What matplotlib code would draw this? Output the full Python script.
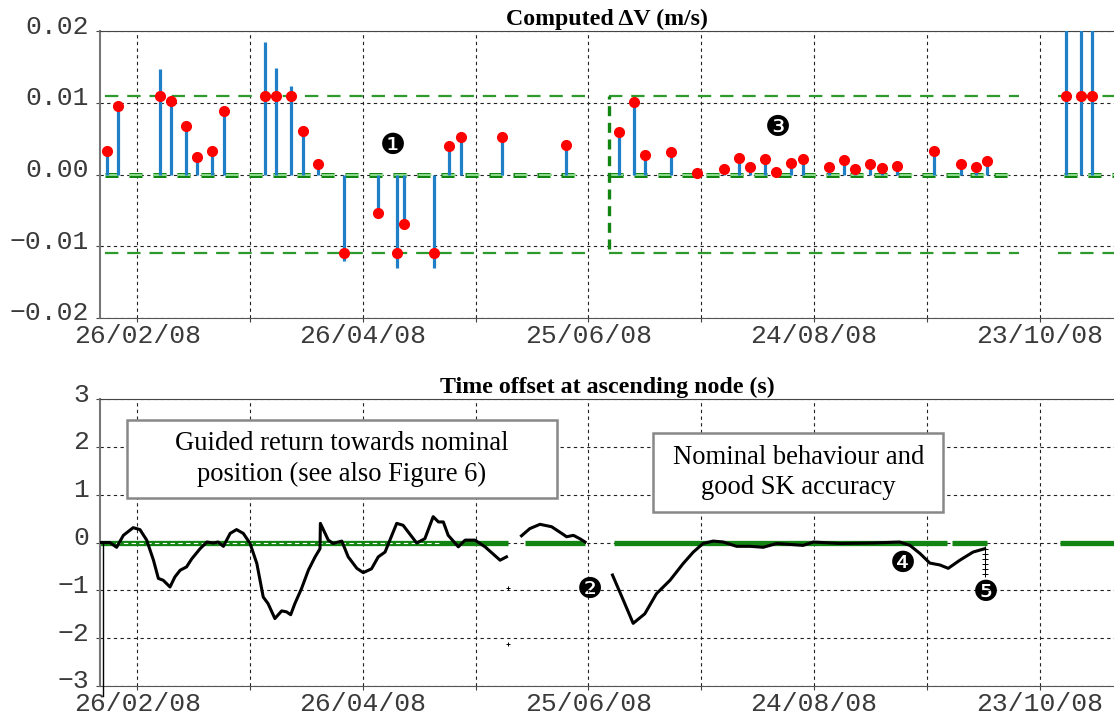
import matplotlib
matplotlib.use('Agg')
import matplotlib.pyplot as plt
import matplotlib.dates as mdates
import matplotlib.transforms as mtransforms
from matplotlib.patches import Rectangle
import numpy as np

# --- data -------------------------------------------------------------
base_date = '2008-02-26'

stem_dates = ['2008-02-18', '2008-02-21', '2008-03-03', '2008-03-06', '2008-03-10',
              '2008-03-13', '2008-03-17', '2008-03-20', '2008-03-31', '2008-04-03',
              '2008-04-07', '2008-04-10', '2008-04-14', '2008-04-21', '2008-04-30',
              '2008-05-05', '2008-05-07', '2008-05-15', '2008-05-19', '2008-05-22',
              '2008-06-02', '2008-06-19', '2008-07-03', '2008-07-07', '2008-07-10',
              '2008-07-17', '2008-07-24', '2008-07-31', '2008-08-04', '2008-08-07',
              '2008-08-11', '2008-08-14', '2008-08-18', '2008-08-21', '2008-08-28',
              '2008-09-01', '2008-09-04', '2008-09-08', '2008-09-11', '2008-09-15',
              '2008-09-25', '2008-10-02', '2008-10-06', '2008-10-09', '2008-10-30',
              '2008-11-03', '2008-11-06']
dv_raw = [0.0033, 0.0095, 0.0147, 0.0103, 0.0068, 0.0025, 0.0033, 0.0088, 0.0184, 0.0149,
          0.0124, 0.0060, 0.0015, -0.0120, -0.0053, -0.0130, -0.0069, -0.0130, 0.0040, 0.0052,
          0.0052, 0.0041, 0.0059, 0.0101, 0.0027, 0.0031, 0.0002, 0.0008, 0.0023, 0.0011,
          0.0022, 0.0003, 0.0016, 0.0022, 0.0011, 0.0020, 0.0008, 0.0014, 0.0009, 0.0012,
          0.0033, 0.0015, 0.0010, 0.0019, 0.0300, 0.0300, 0.0300]
dv_applied = [0.0033, 0.0095, 0.0110, 0.0103, 0.0068, 0.0025, 0.0033, 0.0088, 0.0110, 0.0110,
              0.0110, 0.0060, 0.0015, -0.0110, -0.0053, -0.0110, -0.0069, -0.0110, 0.0040, 0.0052,
              0.0052, 0.0041, 0.0059, 0.0101, 0.0027, 0.0031, 0.0002, 0.0008, 0.0023, 0.0011,
              0.0022, 0.0003, 0.0016, 0.0022, 0.0011, 0.0020, 0.0008, 0.0014, 0.0009, 0.0012,
              0.0033, 0.0015, 0.0010, 0.0019, 0.0110, 0.0110, 0.0110]

dv_limit = 0.011
# control periods (days from 26/02/08)
dv_band_periods = [(-8.6, 119.0), (125.5, 234.5), (245.0, 262.0)]
dv_zero_periods = [(-8.6, 117.2), (125.7, 233.7), (246.5, 262.0)]
dv_switch_day = 125.5

# time offset curve, days from 26/02/08, three pieces
t1_day = [-9.9, -7.3, -5.5, -3.7, -1.1, 0.7, 2.5, 4.3, 5.6, 6.9, 8.7, 10.0, 11.4, 13.1, 14.5,
          16.7, 18.5, 20.2, 21.5, 22.9, 24.7, 26.4, 28.2, 30.0, 31.8, 33.5, 34.8, 36.6, 38.4,
          39.7, 40.8, 41.9, 43.7, 45.5, 47.3, 48.6, 48.7, 50.8, 52.1, 54.4, 56.1, 58.4, 60.1,
          62.3, 64.1, 65.9, 69.0, 70.7, 74.3, 76.5, 78.7, 80.1, 81.4, 82.7, 85.4, 87.2, 89.8,
          92.5, 96.5, 98.2]
t1_val = [0.0, 0.0, -0.10, 0.15, 0.31, 0.27, 0.05, -0.37, -0.75, -0.79, -0.93, -0.72, -0.58,
          -0.51, -0.34, -0.13, 0.01, -0.01, 0.01, -0.08, 0.19, 0.27, 0.19, -0.02, -0.44, -1.14,
          -1.28, -1.59, -1.43, -1.45, -1.51, -1.28, -0.96, -0.58, -0.30, -0.13, 0.40, 0.05,
          -0.02, 0.03, -0.30, -0.54, -0.63, -0.55, -0.30, -0.20, 0.40, 0.36, -0.01, 0.08, 0.54,
          0.43, 0.43, 0.15, -0.09, 0.05, 0.05, -0.09, -0.37, -0.30]
t2_day = [102.2, 104.4, 107.1, 110.2, 112.9, 114.2, 116.0, 117.7, 119.1]
t2_val = [0.14, 0.29, 0.38, 0.33, 0.19, 0.12, 0.15, 0.08, 0.01]
t3_day = [126.4, 129.3, 131.9, 135.0, 138.1, 141.7, 145.2, 147.9, 150.5, 153.2, 155.9, 159.4,
          163.0, 166.5, 170.1, 177.1, 179.8, 186.9, 195.7, 202.8, 205.5, 208.2, 210.8, 213.5,
          215.7, 218.8, 222.3, 225.4]
t3_val = [-0.68, -1.21, -1.69, -1.49, -1.07, -0.79, -0.44, -0.20, -0.02, 0.03, 0.01, -0.08,
          -0.08, -0.10, -0.02, -0.06, 0.01, -0.02, -0.01, 0.01, -0.06, -0.23, -0.43, -0.47,
          -0.54, -0.37, -0.20, -0.13]
tail_day = [225.4, 225.4, 225.4, 225.4, 225.4, 225.4]
tail_val = [-0.13, -0.24, -0.35, -0.45, -0.56, -0.66]
stray_day = [98.5, 98.5]
stray_val = [-0.96, -2.13]
drop_day = -9.0
nominal_periods = [(-9.9, 98.6), (103.1, 119.1), (126.8, 215.5), (216.8, 225.9), (245.4, 262.0)]

# annotation boxes: (day from, day to, value low, value high)
box_guided = (-2.76, 111.6, 0.92, 2.56)
box_nominal = (137.2, 214.4, 0.64, 2.29)

tick_days = [0, 30, 60, 90, 120, 150, 180, 210, 240]
tick_labels = ['26/02/08', '', '26/04/08', '', '25/06/08', '', '24/08/08', '', '23/10/08']
dv_yticks = [-0.02, -0.01, 0.0, 0.01, 0.02]
dv_ylabels = ['\u22120.02', '\u22120.01', '0.00', '0.01', '0.02']
dt_yticks = [-3, -2, -1, 0, 1, 2, 3]
dt_ylabels = ['\u22123', '\u22122', '\u22121', '0', '1', '2', '3']

# --- helpers ------------------------------------------------------------
t0 = mdates.datestr2num(base_date)
def d2x(days):
    return t0 + np.asarray(days, dtype=float)

mono = 'Liberation Mono'
serif = 'Liberation Serif'
green = '#2e9a2e'
dkgreen = '#118411'
blue = '#1f80c8'
num_font = dict(fontsize=21, ha='center', va='center', family='DejaVu Sans', zorder=5)

fig = plt.figure(figsize=(11.14, 7.15), dpi=100)
ax1 = fig.add_axes([100/1114, 1-318/715, 1014/1114, 287/715])
ax2 = fig.add_axes([100/1114, 1-686/715, 1014/1114, 287/715])
lift = mtransforms.ScaledTranslation(0, 7/100, fig.dpi_scale_trans)

for ax, yt, yl in [(ax1, dv_yticks, dv_ylabels), (ax2, dt_yticks, dt_ylabels)]:
    ax.set_xlim(d2x(-9.92), d2x(259.8))
    ax.set_xticks(d2x(tick_days))
    ax.set_xticklabels(tick_labels)
    ax.set_yticks(yt)
    ax.set_yticklabels(yl)
    ax.set_ylim(yt[0], yt[-1])
    ax.tick_params(axis='both', length=3, width=0.8, color='#444444', pad=1.5)
    ax.tick_params(axis='y', pad=5)
    for lab in ax.get_xticklabels() + ax.get_yticklabels():
        lab.set_fontfamily(mono)
        lab.set_fontsize(19)
        lab.set_color('#3a3a3a')
    for lab in ax.get_yticklabels():
        lab.set_transform(lab.get_transform() + lift)
    ax.spines['right'].set_visible(False)
    ax.spines['left'].set_color('#777777')
    ax.spines['left'].set_linewidth(1.5)
    ax.spines['bottom'].set_color('#555555')
    ax.spines['top'].set_color('#444444')
    ax.grid(True, color='#222222', linestyle=(0, (3, 3)), linewidth=0.8)
    ax.set_axisbelow(True)

# --- top: computed dV ----------------------------------------------------
for a, b in dv_band_periods:
    ax1.plot(d2x([a, b]), [dv_limit, dv_limit], color=green, lw=1.6, dashes=(6, 4), zorder=2)
    ax1.plot(d2x([a, b]), [-dv_limit, -dv_limit], color=green, lw=1.6, dashes=(6, 4), zorder=2)
for a, b in dv_zero_periods:
    ax1.plot(d2x([a, b]), [0, 0], color=dkgreen, lw=3.6, dashes=(2.6, 2.2), zorder=2)
    ax1.plot(d2x([a, b]), [0, 0], color='#8fdc8f', lw=1.4, dashes=(6.7, 5.7), dash_capstyle='butt',
             zorder=2)
ax1.plot(d2x([dv_switch_day, dv_switch_day]), [-0.0104, dv_limit], color=dkgreen, lw=2.4,
         dashes=(3, 2), zorder=2)

sx = mdates.datestr2num(stem_dates)
ax1.vlines(sx, 0, dv_raw, color=blue, lw=2.3, zorder=3)
ax1.plot(sx, dv_applied, 'o', color='#ff0000', ms=7, mec='#ff0000', zorder=4)
ax1.set_title('Computed \u0394V (m/s)', fontfamily=serif, fontweight='bold', fontsize=17.2, pad=4)

ax1.text(d2x(68), 0.004, '\u2776', **num_font)
ax1.text(d2x(170.4), 0.0065, '\u2778', **num_font)

# --- bottom: time offset ---------------------------------------------------
for a, b in nominal_periods:
    ax2.plot(d2x([a, b]), [-0.02, -0.02], color=dkgreen, lw=3.8, solid_capstyle='butt', zorder=2)
ax2.plot(d2x([-9.9, 81.0]), [0.0, 0.0], color='white', lw=0.8, dashes=(4, 3), zorder=2)

ax2.plot(d2x(t1_day), t1_val, color='black', lw=2.2, zorder=3)
ax2.plot(d2x(t2_day), t2_val, color='black', lw=2.2, zorder=3)
ax2.plot(d2x(t3_day), t3_val, color='black', lw=2.2, zorder=3)
ax2.plot(d2x(tail_day), tail_val, color='black', lw=0.8, ls=':', marker='+', ms=4, mew=0.7, zorder=3)
ax2.plot(d2x(stray_day), stray_val, '+', color='black', ms=3, mew=0.7, zorder=3)
ax2.plot(d2x([drop_day, drop_day]), [0, -3.2], color='black', lw=1.0, zorder=3, clip_on=False)
ax2.set_title('Time offset at ascending node (s)', fontfamily=serif, fontweight='bold',
              fontsize=17.2, pad=4)

for (a, b, lo, hi), txt in [(box_guided, 'Guided return towards nominal\nposition (see also Figure 6)'),
                            (box_nominal, 'Nominal behaviour and\ngood SK accuracy')]:
    ax2.add_patch(Rectangle((d2x(a), lo), d2x(b) - d2x(a), hi - lo, fc='white', ec='#888888',
                            lw=1.8, zorder=5))
    ax2.text(d2x((a + b) / 2), (lo + hi) / 2, txt, family=serif, fontsize=19.2, ha='center',
             va='center', linespacing=1.3, zorder=6)

ax2.text(d2x(120.3), -1.0, '\u2777', **num_font)
ax2.text(d2x(203.6), -0.45, '\u2779', **num_font)
ax2.text(d2x(225.6), -1.06, '\u277a', **num_font)

fig.savefig('out.png', dpi=100)
